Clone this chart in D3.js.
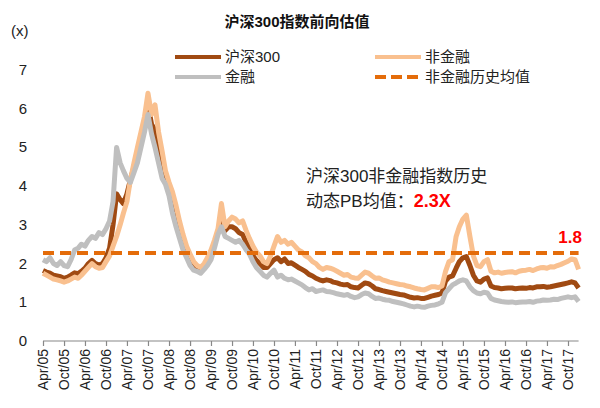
<!DOCTYPE html>
<html><head><meta charset="utf-8">
<script src="https://cdn.jsdelivr.net/npm/d3@7/dist/d3.min.js"></script>
<style>
body{margin:0;background:#fff;}
text{font-family:"Liberation Sans",Arial,"Noto Sans CJK SC",sans-serif;}
</style></head>
<body><svg id="c" width="600" height="408"></svg>
<script>
const title = "沪深300指数前向估值";
const seriesNames = ["沪深300", "非金融", "金融", "非金融历史均值"];
const startMonth = "2005-04";
const tickLabels = ["Apr/05","Oct/05","Apr/06","Oct/06","Apr/07","Oct/07","Apr/08","Oct/08","Apr/09","Oct/09","Apr/10","Oct/10","Apr/11","Oct/11","Apr/12","Oct/12","Apr/13","Oct/13","Apr/14","Oct/14","Apr/15","Oct/15","Apr/16","Oct/16","Apr/17","Oct/17"];
const yTicks = [0,1,2,3,4,5,6,7];
const avgValue = 2.27;
const avgLabel = "1.8";
const noteLine1 = "沪深300非金融指数历史";
const noteLine2 = "动态PB均值：";
const noteValue = "2.3X";

// monthly values, Apr 2005 .. Jan 2018
const csi300 = [1.82,1.78,1.75,1.70,1.68,1.66,1.62,1.65,1.70,1.76,1.74,1.80,1.88,2.00,2.08,2.00,1.96,2.00,2.15,2.40,
3.00,3.80,3.65,3.55,3.80,4.16,4.50,4.85,5.20,5.60,6.10,5.60,5.45,4.95,4.50,4.20,3.90,3.55,3.20,2.85,
2.50,2.28,2.10,1.95,1.88,1.82,1.92,2.05,2.25,2.50,2.82,3.20,2.85,2.95,2.95,2.90,2.80,2.75,2.55,2.40,
2.20,2.08,2.00,1.90,1.90,2.00,2.10,2.15,2.05,2.12,2.00,2.02,1.96,1.90,1.85,1.80,1.72,1.68,1.62,1.58,
1.55,1.58,1.56,1.52,1.50,1.47,1.45,1.46,1.40,1.38,1.37,1.44,1.50,1.48,1.42,1.35,1.33,1.30,1.28,1.26,
1.24,1.22,1.20,1.19,1.16,1.13,1.11,1.12,1.10,1.10,1.13,1.16,1.18,1.20,1.24,1.55,1.65,1.68,1.88,2.05,
2.15,2.18,1.95,1.70,1.55,1.52,1.60,1.63,1.42,1.38,1.37,1.35,1.36,1.37,1.37,1.35,1.36,1.37,1.36,1.38,
1.37,1.40,1.40,1.41,1.39,1.40,1.42,1.44,1.46,1.48,1.50,1.53,1.50,1.37];
const nonFin = [1.75,1.70,1.65,1.60,1.58,1.55,1.52,1.55,1.60,1.65,1.62,1.70,1.80,1.90,2.00,1.92,1.88,1.90,2.05,2.20,
2.45,2.70,3.00,3.30,3.60,4.16,4.60,5.00,5.40,5.80,6.40,5.85,6.10,5.40,4.90,4.40,4.10,3.85,3.50,3.10,
2.75,2.45,2.25,2.05,1.95,1.90,2.00,2.15,2.35,2.60,2.90,3.55,2.95,3.10,3.20,3.15,3.05,3.10,2.85,2.65,
2.45,2.30,2.20,2.05,2.00,2.20,2.45,2.70,2.55,2.60,2.50,2.55,2.45,2.35,2.30,2.20,2.15,2.05,2.00,1.90,
1.85,1.90,1.88,1.85,1.80,1.75,1.70,1.72,1.65,1.63,1.62,1.70,1.78,1.75,1.68,1.62,1.63,1.58,1.55,1.52,
1.50,1.48,1.46,1.45,1.42,1.40,1.37,1.35,1.33,1.32,1.36,1.40,1.40,1.38,1.42,1.80,2.05,2.10,2.70,2.95,
3.15,3.25,2.70,2.20,1.95,1.92,2.05,2.10,1.80,1.76,1.78,1.75,1.77,1.78,1.79,1.76,1.80,1.82,1.83,1.85,
1.82,1.86,1.89,1.90,1.88,1.92,1.91,1.95,1.98,2.02,2.06,2.12,2.10,1.85];
const fin = [2.10,2.05,2.15,2.00,1.95,2.05,1.95,1.92,2.10,2.35,2.40,2.50,2.45,2.60,2.70,2.65,2.80,2.75,2.90,3.10,
3.60,5.00,4.60,4.40,4.20,4.10,4.35,4.60,5.00,5.40,5.85,5.35,5.00,4.60,4.20,4.05,3.75,3.30,2.95,2.65,
2.35,2.15,1.95,1.83,1.80,1.75,1.85,1.95,2.10,2.40,2.75,2.95,2.70,2.65,2.60,2.55,2.60,2.50,2.35,2.25,
2.05,1.90,1.80,1.70,1.65,1.75,1.83,1.65,1.70,1.62,1.58,1.60,1.55,1.50,1.45,1.38,1.32,1.35,1.28,1.30,
1.32,1.28,1.27,1.25,1.22,1.20,1.18,1.20,1.15,1.12,1.14,1.20,1.24,1.22,1.15,1.10,1.11,1.08,1.06,1.05,
1.02,1.00,0.98,0.96,0.93,0.90,0.88,0.90,0.88,0.87,0.90,0.92,0.93,0.96,1.00,1.25,1.35,1.45,1.50,1.55,
1.58,1.55,1.40,1.30,1.24,1.22,1.26,1.24,1.10,1.06,1.04,1.02,1.01,1.00,1.01,0.99,1.00,1.01,1.01,1.02,
1.00,1.03,1.04,1.06,1.05,1.06,1.08,1.07,1.10,1.12,1.14,1.12,1.14,1.02];

const colors = {csi:"#A04A12", nonFin:"#F9C08F", fin:"#BFBFBF", avg:"#E46C0A", red:"#FF0000", text:"#222"};

const svg = d3.select("#c");
const parseTick = d3.timeParse("%b/%y");
const tickDates = tickLabels.map(parseTick);
const start = d3.timeParse("%Y-%m")(startMonth);
const dates = csi300.map((_, i) => d3.timeMonth.offset(start, i));

const x = d3.scaleTime().domain([tickDates[0], tickDates[tickDates.length-1]]).range([43, 568]);
const y = d3.scaleLinear().domain([0, 7]).range([341, 70]);
const endDate = dates[dates.length-1];

// title
svg.append("text").attr("x", 297).attr("y", 27).attr("text-anchor","middle")
  .attr("font-size", 15).attr("font-weight","bold").attr("fill","#111").text(title);
svg.append("text").attr("x", 11).attr("y", 36).attr("font-size", 15).attr("fill", colors.text).text("(x)");

// y tick labels
svg.append("g").selectAll("text").data(yTicks).join("text")
  .attr("x", 27).attr("y", d => y(d) + 5).attr("text-anchor","end")
  .attr("font-size", 15).attr("fill", colors.text).text(d => d);

// x axis
const xAxis = d3.axisBottom(x).tickValues(tickDates).tickFormat((d,i) => tickLabels[i]).tickSizeOuter(0).tickSize(5);
const gx = svg.append("g").attr("transform", "translate(0,341)").call(xAxis);
gx.select(".domain").remove();
gx.append("line").attr("x1", x(tickDates[0])).attr("x2", x(endDate)).attr("y1", 0).attr("y2", 0).attr("stroke", "#888").attr("stroke-width", 1.2);
gx.selectAll(".tick line").attr("stroke", "#888").attr("stroke-width", 1.2);
gx.selectAll(".tick text").attr("font-size", 14).attr("fill", colors.text)
  .attr("transform", "rotate(-90)").attr("text-anchor","end").attr("x", -8).attr("y", 0).attr("dy", "0.35em")
  .style("font-family", '"Liberation Sans",Arial,sans-serif');

// lines
const line = vals => d3.line().x((d,i) => x(dates[i])).y(d => y(d))(vals);
svg.append("path").attr("d", line(csi300)).attr("fill","none").attr("stroke", colors.csi).attr("stroke-width", 5).attr("stroke-linejoin","round");
svg.append("path").attr("d", line(nonFin)).attr("fill","none").attr("stroke", colors.nonFin).attr("stroke-width", 5).attr("stroke-linejoin","round");
svg.append("path").attr("d", line(fin)).attr("fill","none").attr("stroke", colors.fin).attr("stroke-width", 5).attr("stroke-linejoin","round");
svg.append("line").attr("x1", x(tickDates[0])).attr("x2", x(endDate)).attr("y1", y(avgValue)).attr("y2", y(avgValue))
  .attr("stroke", colors.avg).attr("stroke-width", 4).attr("stroke-dasharray", "11,6");

// legend
const legend = [
  {name: seriesNames[0], color: colors.csi, dash: null, lx: 175, ly: 57},
  {name: seriesNames[1], color: colors.nonFin, dash: null, lx: 375, ly: 57},
  {name: seriesNames[2], color: colors.fin, dash: null, lx: 175, ly: 77},
  {name: seriesNames[3], color: colors.avg, dash: "11,5", lx: 375, ly: 77}
];
const lg = svg.append("g").selectAll("g").data(legend).join("g");
lg.append("line").attr("x1", d => d.lx).attr("x2", d => d.lx + 46).attr("y1", d => d.ly).attr("y2", d => d.ly)
  .attr("stroke", d => d.color).attr("stroke-width", 4).attr("stroke-dasharray", d => d.dash);
lg.append("text").attr("x", d => d.lx + 50).attr("y", d => d.ly + 5).attr("font-size", 15).attr("fill", colors.text).text(d => d.name);

// annotations
svg.append("text").attr("x", 306).attr("y", 182).attr("font-size", 17).attr("fill", colors.text).text(noteLine1);
const t2 = svg.append("text").attr("x", 306).attr("y", 207).attr("font-size", 17).attr("fill", colors.text);
t2.append("tspan").text(noteLine2);
t2.append("tspan").attr("font-weight","bold").attr("fill", colors.red).attr("font-size", 18).text(noteValue);
svg.append("text").attr("x", 582).attr("y", 243).attr("text-anchor","end").attr("font-size", 17).attr("font-weight","bold").attr("fill", colors.red).text(avgLabel);
</script></body></html>
